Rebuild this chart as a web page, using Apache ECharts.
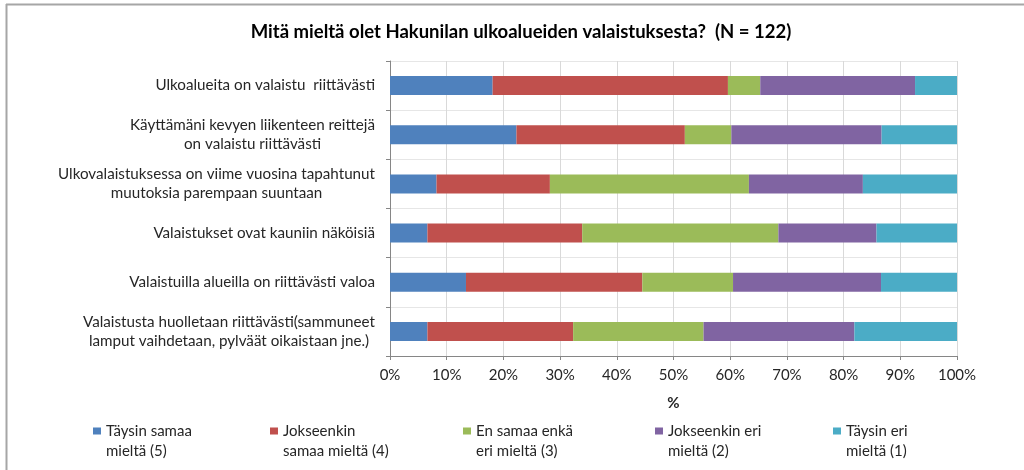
<!DOCTYPE html>
<html>
<head>
<meta charset="utf-8">
<script src="https://cdn.jsdelivr.net/npm/echarts@6/dist/echarts.min.js"></script>
<style>html,body{margin:0;padding:0;background:#fff}#c{width:1024px;height:470px}</style>
</head>
<body>
<div id="c"></div>
<script>
const titleText = 'Mitä mieltä olet Hakunilan ulkoalueiden valaistuksesta?  (N = 122)';
const categories = [
  'Ulkoalueita on valaistu  riittävästi',
  'Käyttämäni kevyen liikenteen reittejä\non valaistu riittävästi',
  'Ulkovalaistuksessa on viime vuosina tapahtunut\nmuutoksia parempaan suuntaan',
  'Valaistukset ovat kauniin näköisiä',
  'Valaistuilla alueilla on riittävästi valoa',
  'Valaistusta huolletaan riittävästi(sammuneet\nlamput vaihdetaan, pylväät oikaistaan jne.)'
];
const seriesNames = [
  'Täysin samaa\nmieltä (5)',
  'Jokseenkin\nsamaa mieltä (4)',
  'En samaa enkä\neri mieltä (3)',
  'Jokseenkin eri\nmieltä (2)',
  'Täysin eri\nmieltä (1)'
];
const taysinSamaa     = [18.1, 22.3,  8.2,  6.6, 13.4,  6.6];
const jokseenkinSamaa = [41.5, 29.7, 20.0, 27.3, 31.1, 25.7];
const enSamaaEnka     = [ 5.7,  8.2, 35.1, 34.6, 16.0, 23.0];
const jokseenkinEri   = [27.3, 26.5, 20.1, 17.3, 26.1, 26.6];
const taysinEri       = [ 7.4, 13.3, 16.6, 14.2, 13.4, 18.1];
const xTicks = [0, 10, 20, 30, 40, 50, 60, 70, 80, 90, 100];
const axisName = '%';

const values = [taysinSamaa, jokseenkinSamaa, enSamaaEnka, jokseenkinEri, taysinEri];
const colors = ['#4F81BD', '#C0504D', '#9BBB59', '#8064A2', '#4BACC6'];
const FONT = 'Lato, "Open Sans", sans-serif';
const legendLefts = [93, 270, 463, 655, 833];

const chart = echarts.init(document.getElementById('c'), null, {renderer: 'canvas'});
const rich = {c: {align: 'center', fontSize: 15.2, fontFamily: FONT, color: '#262626', lineHeight: 19}};

const option = {
  animation: false,
  backgroundColor: '#fff',
  textStyle: {fontFamily: FONT},
  title: {
    text: titleText,
    left: 516, top: 18, textAlign: 'center',
    textStyle: {fontSize: 18.5, fontWeight: 'bold', color: '#000', fontFamily: FONT}
  },
  grid: {left: 390, right: 67, top: 61, height: 295, containLabel: false},
  xAxis: {
    type: 'value', min: 0, max: 100, interval: 10,
    name: axisName, nameLocation: 'middle', nameGap: 40,
    nameTextStyle: {fontSize: 15, fontWeight: 'bold', color: '#262626', fontFamily: FONT},
    axisLine: {show: true, lineStyle: {color: '#868686', width: 1}},
    axisTick: {show: true, length: 4, lineStyle: {color: '#868686'}},
    axisLabel: {formatter: v => xTicks.includes(v) ? v + '%' : '', fontSize: 15, color: '#262626', margin: 12, fontFamily: FONT},
    splitLine: {show: true, lineStyle: {color: '#D9D9D9', width: 1}}
  },
  yAxis: {
    type: 'category', data: categories, inverse: true,
    axisLine: {show: true, lineStyle: {color: '#868686', width: 1}},
    axisTick: {show: true, length: 4, inside: false, lineStyle: {color: '#868686'}},
    axisLabel: {
      margin: 15, align: 'right',
      formatter: v => v.split('\n').map(l => '{c|' + l + '}').join('\n'),
      rich: rich
    },
    splitLine: {show: true, lineStyle: {color: '#E6E6E6', width: 1}}
  },
  legend: legendLefts.map((l, i) => ({
    data: [seriesNames[i]],
    left: l, top: 421, padding: 0,
    icon: 'path://M0,0 L8,0 L8,7 L0,7 Z M0,27 L0.05,27 L0.05,27.05 Z',
    itemWidth: 8, itemHeight: 27, itemGap: 0,
    selectedMode: false,
    textStyle: {fontSize: 15, color: '#262626', lineHeight: 20, fontFamily: FONT, padding: [0, 0, 0, 0]}
  })),
  series: values.map((d, i) => ({
    name: seriesNames[i], type: 'bar', stack: 'total', data: d,
    barWidth: 19, itemStyle: {color: colors[i]},
    emphasis: {disabled: true}
  })),
  graphic: [
    {type: 'line', shape: {x1: 6.5, y1: 4, x2: 6.5, y2: 470}, style: {stroke: '#A6A6A6', lineWidth: 2}, silent: true},
    {type: 'line', shape: {x1: 6, y1: 4.5, x2: 1024, y2: 4.5}, style: {stroke: '#A6A6A6', lineWidth: 2}, silent: true}
  ]
};
chart.setOption(option);
</script>
</body>
</html>
